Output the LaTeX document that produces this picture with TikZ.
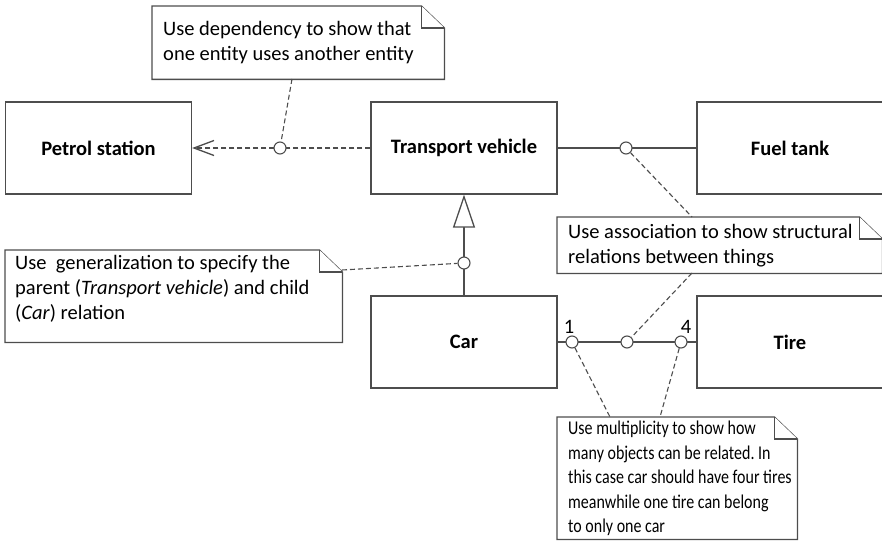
\documentclass[tikz,border=0pt]{standalone}
\usepackage{fontspec}
\setmainfont{Carlito}
% narrower cut of the same face for the long multiplicity note
\newfontfamily\narrowface[FakeStretch=0.82]{Carlito}
\frenchspacing
\usetikzlibrary{arrows.meta}
\definecolor{linegray}{HTML}{4D4D4D}

% UML note frame with a folded corner, drawn around an existing node
\newcommand\umlnote[1]{%
  \draw[noteline] (#1.north west) -- ([xshift=-23pt]#1.north east)
    -- ([yshift=-22pt]#1.north east) -- (#1.south east)
    -- (#1.south west) -- cycle;
  \draw[noteline] ([xshift=-23pt]#1.north east) |- ([yshift=-22pt]#1.north east);
}

\begin{document}
\begin{tikzpicture}[x=1pt,y=-1pt,
  txt/.style={font=\fontsize{20.5}{25}\selectfont},
  classbox/.style={draw=linegray, line width=1.3pt, minimum width=186pt,
    minimum height=92pt, inner sep=0pt, txt, font=\fontsize{20.5}{25}\selectfont\bfseries},
  noteframe/.style={draw=none, inner sep=0pt, anchor=north west},
  noteline/.style={draw=linegray, line width=1.3pt, fill=white},
  notetext/.style={inner sep=0pt, anchor=north west, align=left, txt},
  rel/.style={draw=linegray, line width=1.3pt},
  deprel/.style={rel, dash pattern=on 5pt off 3pt},
  notelink/.style={draw=linegray, line width=1.1pt, dash pattern=on 5pt off 3pt},
  joint/.style={circle, draw=linegray, line width=1.1pt, fill=white,
    inner sep=0pt, minimum size=12pt},
  mult/.style={inner sep=0pt, anchor=base, txt}
]
\useasboundingbox (0,0) rectangle (882,540);

% classes
\node[classbox] (petrol)  at (98.5,148) {Petrol station};
\node[classbox] (vehicle) at (464,148)  {Transport vehicle};
\node[classbox] (tank)    at (790,148)  {Fuel tank};
\node[classbox] (car)     at (464,342)  {Car};
\node[classbox] (tire)    at (790,342)  {Tire};

% relations
\draw[deprel, -{Straight Barb[length=20pt,width=15pt]}] (vehicle.west) -- (petrol.east);
\draw[rel] (vehicle.east) -- (tank.west);
\draw[rel, -{Triangle[open,length=33pt,width=22pt,fill=white]}] (car.north) -- (vehicle.south);
\draw[rel] (car.east) -- (tire.west);

% multiplicities
\node[mult] (multcar)  at (569,333) {1};
\node[mult] (multtire) at (686,333) {4};

% attachment points on the relations
\node[joint] (jdep)   at (280,148) {};
\node[joint] (jassoc) at (626,148) {};
\node[joint] (jgen)   at (464,263) {};
\node[joint] (jm1)    at (572,342) {};
\node[joint] (jm2)    at (627,342) {};
\node[joint] (jm3)    at (681,342) {};

% notes
\node[noteframe, minimum width=292pt, minimum height=73pt] (ndep) at (152,6) {};
\umlnote{ndep}
\node[notetext] (tdep) at (163,21) {Use dependency to show that\\one entity uses another entity};

\node[noteframe, minimum width=337pt, minimum height=92pt] (ngen) at (5,250) {};
\umlnote{ngen}
\node[notetext] (tgen) at (15,255) {Use\ \ generalization to specify the\\parent (\textit{Transport vehicle}) and child\\(\textit{Car}) relation};

\node[noteframe, minimum width=325pt, minimum height=56pt] (nassoc) at (557,217) {};
\umlnote{nassoc}
\node[notetext] (tassoc) at (568,224) {Use association to show structural\\relations between things};

\node[noteframe, minimum width=240pt, minimum height=122pt] (nmult) at (557,417) {};
\umlnote{nmult}
\node[notetext, font=\narrowface\fontsize{19.5}{24.5}\selectfont] (tmult) at (568,421) {Use multiplicity to show how\\many objects can be related. In\\this case car should have four tires\\meanwhile one tire can belong\\to only one car};

% note anchors
\coordinate (cdep)    at (292,79);
\coordinate (cgen)    at (342,270);
\coordinate (cassocT) at (692,217);
\coordinate (cassocB) at (692,273);
\coordinate (cmultL)  at (610,417);
\coordinate (cmultR)  at (660,417);

% note links
\draw[notelink] (cdep) -- (jdep);
\draw[notelink] (cgen) -- (jgen);
\draw[notelink] (jassoc) -- (cassocT);
\draw[notelink] (cassocB) -- (jm2);
\draw[notelink] (jm1) -- (cmultL);
\draw[notelink] (jm3) -- (cmultR);
\end{tikzpicture}
\end{document}
